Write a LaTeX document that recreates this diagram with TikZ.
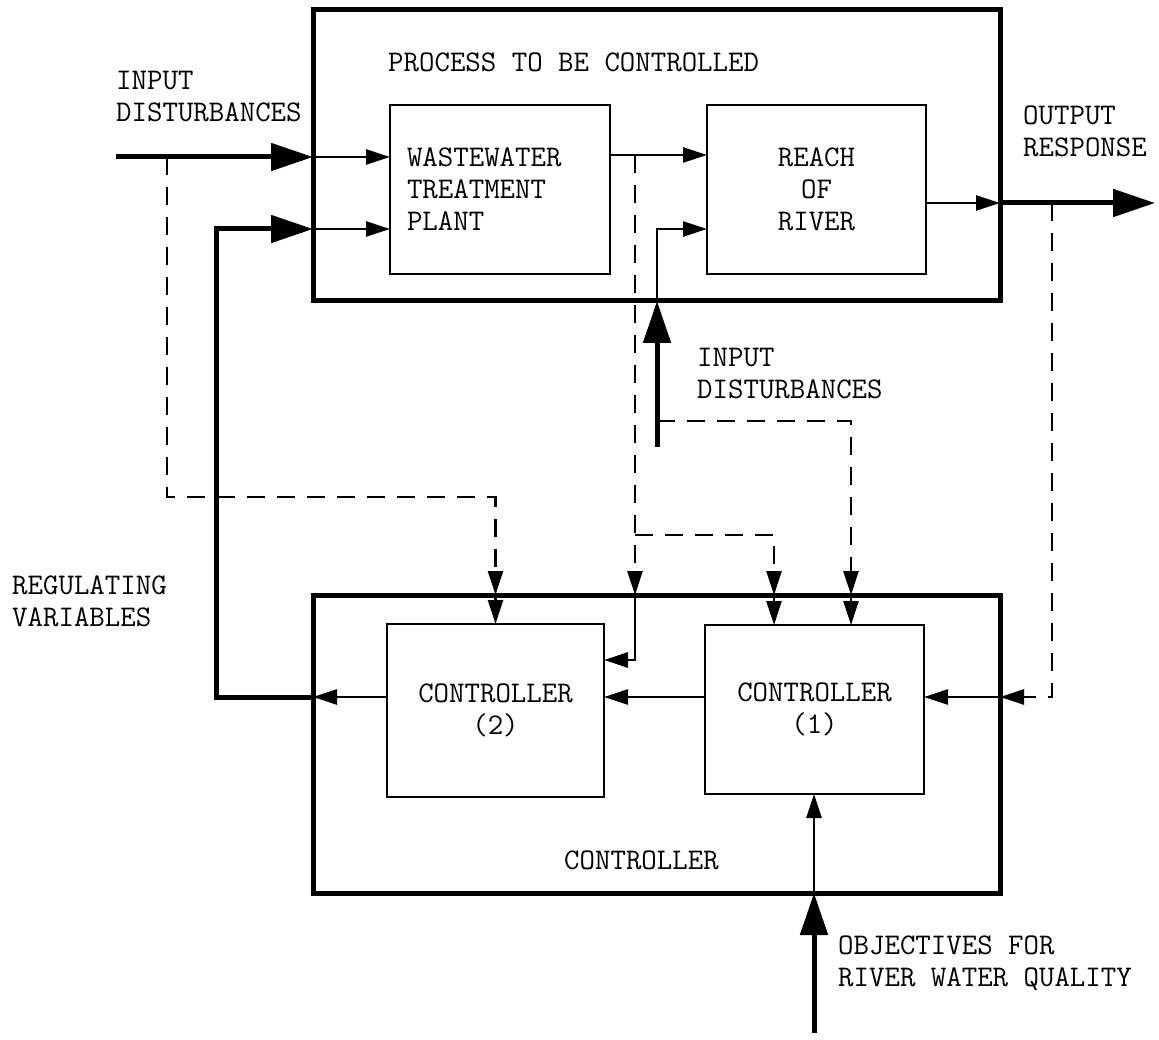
\documentclass[tikz,border=0pt]{standalone}
\usepackage{fontspec}
\usepackage{tikz}
\usetikzlibrary{arrows.meta, calc}
\newcommand{\diagfont}{\ttfamily\fontsize{30}{32}\selectfont\addfontfeatures{FakeBold=0.6}}
\tikzset{
  framebox/.style={draw, line width=5pt, inner sep=0pt, outer sep=0pt},
  blockbox/.style={draw, line width=2.5pt, font=\diagfont, align=center, inner sep=0pt, outer sep=0pt},
  lbl/.style={font=\diagfont, align=left, inner sep=0pt, anchor=west},
  thinline/.style={line width=2.5pt},
  thickline/.style={line width=5pt},
  dashline/.style={line width=2.5pt, dash pattern=on 18pt off 12pt},
  smalltip/.style={-{Triangle[length=24pt,width=15pt]}},
  bigtip/.style={-{Triangle[length=42pt,width=27pt]}},
}

\begin{document}
\begin{tikzpicture}[x=1pt,y=-1pt]
    \useasboundingbox (0,0) rectangle (1159,1040);
    % frames
    \node[framebox, minimum width=687pt, minimum height=291pt] (process) at (656.5,155.5) {};
    \node[framebox, minimum width=687pt, minimum height=298pt] (ctrlbox) at (656.5,744) {};
    % blocks
    \node[blockbox, minimum width=220pt, minimum height=169pt, text width=186pt, align=left] (wwtp) at (500,189.5) {WASTEWATER\\TREATMENT\\PLANT};
    \node[blockbox, minimum width=219pt, minimum height=169pt] (reach) at (816.5,189.5) {REACH\\OF\\RIVER};
    \node[blockbox, minimum width=217pt, minimum height=173pt] (ctrltwo) at (495.5,710.5) {CONTROLLER\\(2)};
    \node[blockbox, minimum width=219pt, minimum height=169pt] (ctrlone) at (814.5,709.5) {CONTROLLER\\(1)};
    % labels
    \node[lbl] (title) at (388,62) {PROCESS TO BE CONTROLLED};
    \node[lbl] (inlbl) at (116,97) {INPUT\\DISTURBANCES};
    \node[lbl] (outlbl) at (1023,131) {OUTPUT\\RESPONSE};
    \node[lbl] (midlbl) at (697,374) {INPUT\\DISTURBANCES};
    \node[lbl] (reglbl) at (12,601) {REGULATING\\VARIABLES};
    \node[lbl] (ctrllbl) at (564,860) {CONTROLLER};
    \node[lbl] (objlbl) at (838,963) {OBJECTIVES FOR\\RIVER WATER QUALITY};
    % junctions
    \coordinate (inA) at (116,157);
    \coordinate (tapA) at (167,157);
    \coordinate (dashA) at (0,497);
    \coordinate (regC) at (216,229);
    \coordinate (tapB) at (635,155);
    \coordinate (jB) at (635,535);
    \coordinate (kB) at (774,535);
    \coordinate (inB) at (657,447);
    \coordinate (tapC) at (657,421);
    \coordinate (kC) at (851,421);
    \coordinate (tapD) at (1052,203);
    \coordinate (outEnd) at (1155,203);
    \coordinate (rowT) at (0,660);
    \coordinate (rowB) at (0,697);
    \coordinate (objA) at (814,1033);
    % main flow
    \draw[thickline,bigtip] (inA) -- (inA -| process.west);
    \draw[thinline,smalltip] (inA -| process.west) -- (inA -| wwtp.west);
    \draw[thinline,smalltip] (wwtp.east |- tapB) -- (reach.west |- tapB);
    \draw[thickline,bigtip] (inB) -- (inB |- process.south);
    \draw[thinline,smalltip] (inB |- process.south) |- (reach.west |- regC);
    \draw[thinline,smalltip] (reach.east |- tapD) -- (process.east |- tapD);
    \draw[thickline,bigtip] (process.east |- tapD) -- (outEnd);
    % control loop
    \draw[thinline,smalltip] (ctrlone.west |- rowB) -- (ctrltwo.east |- rowB);
    \draw[thinline,smalltip] (ctrltwo.west |- rowB) -- (ctrlbox.west |- rowB);
    \draw[thickline,bigtip] (ctrlbox.west |- rowB) -| (regC) -- (regC -| process.west);
    \draw[thinline,smalltip] (regC -| process.west) -- (regC -| wwtp.west);
    \draw[thickline,bigtip] (objA) -- (objA |- ctrlbox.south);
    \draw[thinline,smalltip] (objA |- ctrlbox.south) -- (objA |- ctrlone.south);
    % measurements
    \draw[dashline,smalltip] (tapA) |- (ctrltwo.north |- dashA) -- (ctrltwo.north |- ctrlbox.north);
    \draw[thinline,smalltip] (ctrltwo.north |- ctrlbox.north) -- (ctrltwo.north);
    \draw[dashline,smalltip] (tapB) -- (tapB |- ctrlbox.north);
    \draw[thinline,smalltip] (tapB |- ctrlbox.north) |- (ctrltwo.east |- rowT);
    \draw[dashline,smalltip] (jB) -- (kB) -- (kB |- ctrlbox.north);
    \draw[thinline,smalltip] (kB |- ctrlbox.north) -- (kB |- ctrlone.north);
    \draw[dashline,smalltip] (tapC) -- (kC) -- (kC |- ctrlbox.north);
    \draw[thinline,smalltip] (kC |- ctrlbox.north) -- (kC |- ctrlone.north);
    \draw[dashline,smalltip] (tapD) -- (tapD |- rowB) -- (ctrlbox.east |- rowB);
    \draw[thinline,smalltip] (ctrlbox.east |- rowB) -- (ctrlone.east |- rowB);
\end{tikzpicture}
\end{document}
